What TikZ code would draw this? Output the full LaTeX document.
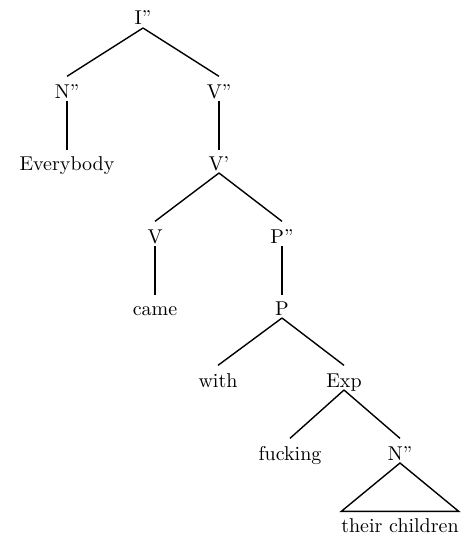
\documentclass[tikz,border=0pt]{standalone}
\begin{document}
\begin{tikzpicture}[x=0.5pt,y=-0.5pt,
  lbl/.style={inner sep=0pt,outer sep=0pt,text height=6.83pt,text depth=0pt,anchor=base,font=\normalsize},
  edge/.style={line width=0.7pt}]
\useasboundingbox (0,0) rectangle (471,540);
\node[lbl] (ip) at (143,25) {I''};
\node[lbl] (np1) at (67,98) {N''};
\node[lbl] (vp) at (219,98) {V''};
\node[lbl] (every) at (67,170) {Everybody};
\node[lbl] (vbar) at (219,170) {V'};
\node[lbl] (v) at (155,243) {V};
\node[lbl] (pp) at (282,243) {P''};
\node[lbl] (came) at (155,315) {came};
\node[lbl] (p) at (282,315) {P};
\node[lbl] (with) at (218,387) {with};
\node[lbl] (exp) at (344,387) {Exp};
\node[lbl] (fuck) at (290,460) {fucking};
\node[lbl] (np2) at (400,460) {N''};
\node[lbl] (tc) at (400,532) {their children};
\draw[edge] ([yshift=-1.5pt]ip.south) -- ([yshift=4pt]np1.north);
\draw[edge] ([yshift=-1.5pt]ip.south) -- ([yshift=4pt]vp.north);
\draw[edge] ([yshift=-1.5pt]np1.south) -- ([yshift=3pt]every.north);
\draw[edge] ([yshift=-1.5pt]vp.south) -- ([yshift=3pt]vbar.north);
\draw[edge] ([yshift=-1.5pt]vbar.south) -- ([yshift=4pt]v.north);
\draw[edge] ([yshift=-1.5pt]vbar.south) -- ([yshift=4pt]pp.north);
\draw[edge] ([yshift=-1.5pt]v.south) -- ([yshift=3pt]came.north);
\draw[edge] ([yshift=-1.5pt]pp.south) -- ([yshift=3pt]p.north);
\draw[edge] ([yshift=-1.5pt]p.south) -- ([yshift=4pt]with.north);
\draw[edge] ([yshift=-1.5pt]p.south) -- ([yshift=4pt]exp.north);
\draw[edge] ([yshift=-1.5pt]exp.south) -- ([yshift=4pt]fuck.north);
\draw[edge] ([yshift=-1.5pt]exp.south) -- ([yshift=4pt]np2.north);
\draw[edge,line join=miter] ([yshift=-1.5pt]np2.south) -- ([yshift=3.5pt]tc.north west) -- ([yshift=3.5pt]tc.north east) -- cycle;
\end{tikzpicture}
\end{document}
